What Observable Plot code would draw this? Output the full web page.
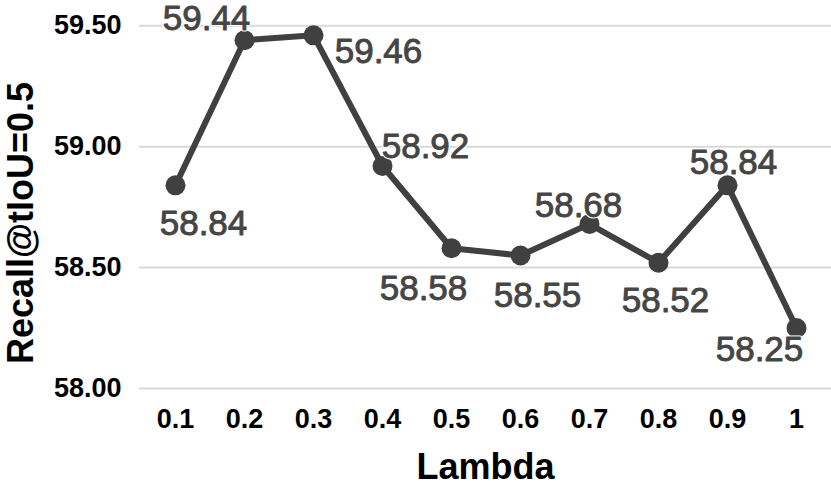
<!DOCTYPE html>
<html>
<head>
<meta charset="utf-8">
<script src="https://cdn.jsdelivr.net/npm/d3@7"></script>
<script src="https://cdn.jsdelivr.net/npm/@observablehq/plot@0.6"></script>
<style>
  html, body { margin: 0; padding: 0; background: #fff; }
  #chart svg { display: block; }
</style>
</head>
<body>
<div id="chart"></div>
<script>
// Data
const lambdas = ["0.1", "0.2", "0.3", "0.4", "0.5", "0.6", "0.7", "0.8", "0.9", "1"];
const recall = [58.84, 59.44, 59.46, 58.92, 58.58, 58.55, 58.68, 58.52, 58.84, 58.25];
const yTicks = [58.0, 58.5, 59.0, 59.5];

// Label placement (offsets of each value label from its point)
const labelDx = [28, -38, 65, 43, -28, 17, -11, 7, 6, -37];
const labelDy = [38, -21, 16, -19, 41, 40, -18, 38, -23, 22];

const data = lambdas.map((l, i) => ({lambda: l, value: recall[i], i}));
const font = "'Liberation Sans', Arial, sans-serif";

const labelMarks = data.flatMap((d, i) => [
  Plot.text([d], {
    x: "lambda", y: "value",
    text: (d) => d.value.toFixed(2),
    dx: labelDx[i], dy: labelDy[i],
    fill: "#fff", stroke: "#fff", strokeWidth: 3,
    fontSize: 35, textAnchor: "middle", lineAnchor: "middle"
  }),
  Plot.text([d], {
    x: "lambda", y: "value",
    text: (d) => d.value.toFixed(2),
    dx: labelDx[i], dy: labelDy[i],
    fill: "#454545", stroke: "#454545", strokeWidth: 0.9,
    fontSize: 35, textAnchor: "middle", lineAnchor: "middle"
  })
]);

const chart = Plot.plot({
  width: 831,
  height: 486,
  marginLeft: 139,
  marginRight: 0,
  marginTop: 1,
  marginBottom: 98,
  style: {fontFamily: font, background: "#fff", overflow: "visible"},
  x: {type: "point", domain: lambdas, padding: 0.5},
  y: {domain: [58, 59.6]},
  marks: [
    Plot.ruleY(yTicks, {stroke: "#d9d9d9", strokeWidth: 2}),
    Plot.axisY(yTicks, {
      tickSize: 0, tickPadding: 18, tickFormat: (d) => d.toFixed(2),
      fontSize: 27, fontWeight: "bold", fill: "#000", label: null
    }),
    Plot.axisX({
      tickSize: 0, tickPadding: 20, fontSize: 27, fontWeight: "bold", fill: "#000", label: null
    }),
    Plot.text(["Recall@tIoU=0.5"], {
      frameAnchor: "left", text: (d) => d, rotate: -90, dx: -118, dy: 28,
      fontSize: 36, fontWeight: "bold", fill: "#000", textAnchor: "middle", lineAnchor: "middle"
    }),
    Plot.text(["Lambda"], {
      frameAnchor: "bottom", text: (d) => d, dy: 79,
      fontSize: 36, fontWeight: "bold", fill: "#000", textAnchor: "middle", lineAnchor: "middle"
    }),
    Plot.line(data, {x: "lambda", y: "value", stroke: "#404040", strokeWidth: 6, strokeLinejoin: "round"}),
    Plot.dot(data, {x: "lambda", y: "value", r: 10, fill: "#404040"}),
    ...labelMarks
  ]
});

document.getElementById("chart").appendChild(chart);
</script>
</body>
</html>
